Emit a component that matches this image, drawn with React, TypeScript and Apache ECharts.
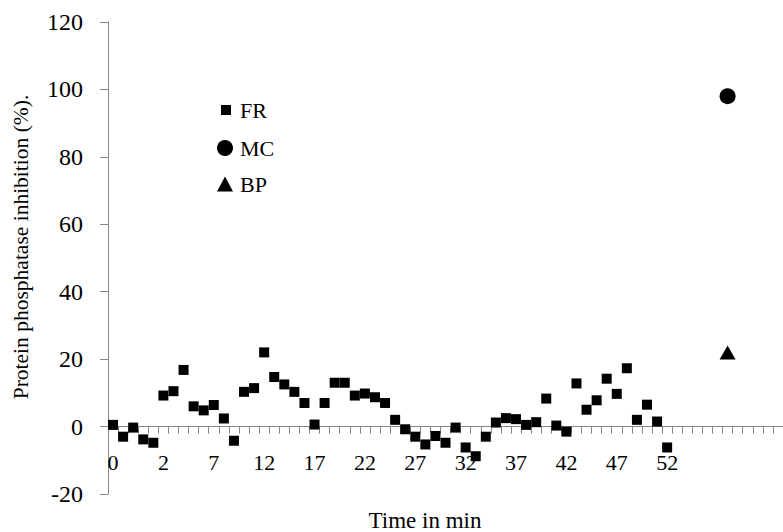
import React, { useEffect, useRef } from "react";
import * as echarts from "echarts";

const categories: string[] = ["0", "0.25", "0.5", "0.75", "1"].concat(
  Array.from({ length: 62 }, (_, i) => String(i + 2))
);

const lastLabelled = 52;

const frValues: number[] = [
  0.5, -3.0, -0.3, -3.8, -4.8, 9.2, 10.5, 16.8, 6.0, 4.8,
  6.4, 2.4, -4.2, 10.3, 11.4, 22.0, 14.7, 12.5, 10.3, 7.0,
  0.6, 7.0, 13.0, 13.0, 9.2, 9.8, 8.7, 7.0, 2.0, -0.8,
  -3.0, -5.3, -2.8, -4.8, -0.3, -6.2, -8.8, -3.0, 1.2, 2.5,
  2.2, 0.5, 1.3, 8.3, 0.3, -1.5, 12.8, 5.0, 7.8, 14.2,
  9.7, 17.3, 2.0, 6.5, 1.5, -6.2,
];

const mcIndex = 61;
const mcValue = 98;
const bpIndex = 61;
const bpValue = 22;

const yTicks = { min: -20, max: 120, interval: 20 };

const xTitle = "Time in min";
const yTitle = "Protein phosphatase inhibition (%).";

const FONT = "Liberation Serif, Times New Roman, serif";

export default function App() {
  const ref = useRef<HTMLDivElement>(null);
  useEffect(() => {
    if (!ref.current) return;
    const chart = echarts.init(ref.current, null, { renderer: "svg" });
    const mcData = categories.map((_, i) => (i === mcIndex ? mcValue : null));
    const bpData = categories.map((_, i) => (i === bpIndex ? bpValue : null));
    const legendText = (pad: number) => ({
      fontFamily: FONT, fontSize: 22, color: "#000", padding: [0, 0, 0, pad],
    });
    chart.setOption({
      animation: false,
      textStyle: { fontFamily: FONT, color: "#000" },
      grid: { left: 108, right: 0, top: 22, bottom: 38, containLabel: false, outerBoundsMode: "none" },
      legend: [
        {
          data: ["FR"], orient: "vertical", left: 221, top: 99, padding: 0,
          itemWidth: 10, itemHeight: 10, itemGap: 5, textStyle: legendText(4),
        },
        {
          data: ["MC"], orient: "vertical", left: 217, top: 137, padding: 0,
          itemWidth: 16, itemHeight: 16, itemGap: 5, textStyle: legendText(2),
        },
        {
          data: ["BP"], orient: "vertical", left: 217, top: 173, padding: 0,
          itemWidth: 16, itemHeight: 15, itemGap: 5, textStyle: legendText(2),
        },
      ],
      graphic: [
        {
          type: "text",
          x: 425,
          y: 520,
          style: {
            text: xTitle,
            fontFamily: FONT,
            fontSize: 23,
            fill: "#000",
            align: "center",
            verticalAlign: "middle",
          },
        },
      ],
      xAxis: {
        type: "category",
        data: categories,
        boundaryGap: true,
        axisLine: { onZero: true, lineStyle: { color: "#868686", width: 1 } },
        axisTick: { show: true, interval: 0, length: 7, lineStyle: { color: "#868686" } },
        axisLabel: {
          interval: 4, margin: -43, fontSize: 22, color: "#000", fontFamily: FONT,
          formatter: (v: string) => (Number(v) > lastLabelled ? "" : v),
        },
        splitLine: { show: false },
      },
      yAxis: {
        type: "value",
        min: yTicks.min,
        max: yTicks.max,
        interval: yTicks.interval,
        name: yTitle,
        nameLocation: "middle",
        nameGap: 76,
        nameTextStyle: { fontFamily: FONT, fontSize: 21.5, color: "#000", padding: [0, 0, 0, 22] },
        axisLine: { show: true, lineStyle: { color: "#868686", width: 1 } },
        axisTick: { show: true, length: 8, lineStyle: { color: "#868686" } },
        axisLabel: { margin: 25, fontSize: 24, color: "#000", fontFamily: FONT },
        splitLine: { show: false },
      },
      series: [
        {
          name: "FR", type: "scatter", data: frValues, symbol: "rect", symbolSize: 10,
          itemStyle: { color: "#000", opacity: 1 },
        },
        {
          name: "MC", type: "scatter", data: mcData, symbol: "circle", symbolSize: 16,
          itemStyle: { color: "#000", opacity: 1 },
        },
        {
          name: "BP", type: "scatter", data: bpData, symbol: "triangle", symbolSize: [16, 14],
          itemStyle: { color: "#000", opacity: 1 },
        },
      ],
    });
    return () => chart.dispose();
  }, []);
  return <div ref={ref} style={{ width: 783, height: 532, position: "absolute", left: 0, top: 0 }} />;
}
